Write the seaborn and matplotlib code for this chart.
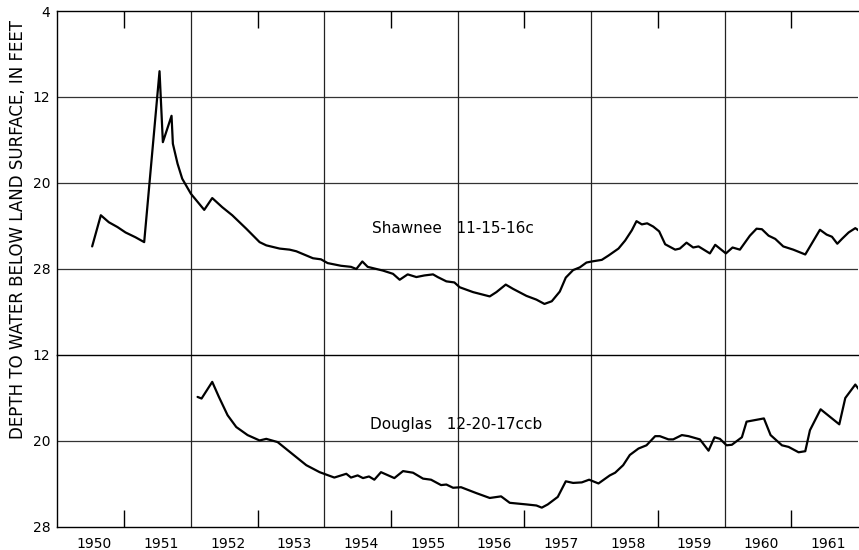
import numpy as np
import pandas as pd
import matplotlib
matplotlib.use('Agg')
import matplotlib.pyplot as plt
import seaborn as sns

# Shawnee 11-15-16c
shawnee_date = [1950.52, 1950.65, 1950.77, 1950.90, 1951.02, 1951.17, 1951.30, 1951.53, 1951.58, 1951.71,
                1951.73, 1951.80, 1951.87, 1952.00, 1952.20, 1952.32, 1952.47, 1952.62, 1952.83, 1953.03,
                1953.13, 1953.33, 1953.48, 1953.58, 1953.83, 1953.95, 1954.05, 1954.25, 1954.40, 1954.48,
                1954.57, 1954.65, 1954.88, 1955.03, 1955.13, 1955.25, 1955.38, 1955.50, 1955.63, 1955.70,
                1955.83, 1955.95, 1956.03, 1956.23, 1956.48, 1956.58, 1956.72, 1956.83, 1957.03, 1957.18,
                1957.30, 1957.41, 1957.53, 1957.62, 1957.73, 1957.83, 1957.93, 1958.01, 1958.16, 1958.26,
                1958.41, 1958.51, 1958.61, 1958.68, 1958.76, 1958.84, 1958.93, 1959.02, 1959.11, 1959.26,
                1959.33, 1959.43, 1959.53, 1959.61, 1959.78, 1959.86, 1960.02, 1960.12, 1960.23, 1960.38,
                1960.48, 1960.56, 1960.66, 1960.76, 1960.88, 1961.03, 1961.21, 1961.43, 1961.53, 1961.61,
                1961.69, 1961.76, 1961.86, 1961.96, 1962.02]
shawnee_depth = [25.9, 23.0, 23.65, 24.1, 24.6, 25.05, 25.5, 9.6, 16.2, 13.75,
                 16.35, 18.2, 19.6, 21.0, 22.5, 21.4, 22.25, 23.0, 24.25, 25.5,
                 25.8, 26.1, 26.2, 26.35, 27.0, 27.1, 27.45, 27.7, 27.8, 28.0,
                 27.3, 27.8, 28.15, 28.45, 29.0, 28.5, 28.75, 28.6, 28.5, 28.75,
                 29.15, 29.25, 29.7, 30.15, 30.55, 30.15, 29.45, 29.85, 30.5, 30.85,
                 31.25, 31.0, 30.1, 28.8, 28.1, 27.85, 27.4, 27.3, 27.15, 26.75,
                 26.1, 25.35, 24.4, 23.55, 23.85, 23.75, 24.05, 24.5, 25.7, 26.2,
                 26.1, 25.55, 26.0, 25.9, 26.55, 25.75, 26.55, 26.0, 26.2, 24.9,
                 24.25, 24.3, 24.9, 25.2, 25.9, 26.2, 26.65, 24.35, 24.8, 25.0,
                 25.65, 25.2, 24.6, 24.2, 24.45]

# Douglas 12-20-17ccb
douglas_date = [1952.10, 1952.16, 1952.32, 1952.42, 1952.55, 1952.68, 1952.85, 1953.03, 1953.13, 1953.30,
                1953.48, 1953.62, 1953.73, 1953.93, 1954.15, 1954.33, 1954.40, 1954.50, 1954.58, 1954.67,
                1954.75, 1954.85, 1955.05, 1955.18, 1955.33, 1955.48, 1955.60, 1955.75, 1955.83, 1955.93,
                1956.05, 1956.28, 1956.48, 1956.65, 1956.78, 1957.03, 1957.18, 1957.26, 1957.35, 1957.50,
                1957.62, 1957.73, 1957.86, 1957.97, 1958.11, 1958.28, 1958.36, 1958.48, 1958.58, 1958.71,
                1958.83, 1958.96, 1959.03, 1959.16, 1959.23, 1959.36, 1959.46, 1959.63, 1959.76, 1959.85,
                1959.93, 1960.03, 1960.11, 1960.26, 1960.33, 1960.59, 1960.69, 1960.86, 1960.96, 1961.11,
                1961.21, 1961.28, 1961.44, 1961.72, 1961.81, 1961.96, 1962.02]
douglas_depth = [15.9, 16.05, 14.5, 15.9, 17.6, 18.7, 19.45, 19.95, 19.8, 20.1,
                 21.0, 21.7, 22.25, 22.9, 23.4, 23.05, 23.4, 23.2, 23.45, 23.3,
                 23.6, 22.9, 23.45, 22.8, 22.95, 23.5, 23.6, 24.1, 24.05, 24.35,
                 24.3, 24.85, 25.3, 25.15, 25.75, 25.9, 26.0, 26.2, 25.9, 25.2,
                 23.75, 23.9, 23.85, 23.6, 23.95, 23.2, 22.95, 22.25, 21.3, 20.7,
                 20.4, 19.55, 19.55, 19.85, 19.85, 19.45, 19.55, 19.85, 20.9, 19.65,
                 19.8, 20.4, 20.35, 19.65, 18.2, 17.9, 19.45, 20.4, 20.55, 21.05,
                 20.95, 19.0, 17.05, 18.45, 16.0, 14.75, 15.25]

years = list(range(1950, 1962))
top_ticks = [4, 12, 20, 28, 36]
top_labels = ['4', '12', '20', '28', '']
low_ticks = [12, 20, 28]
low_labels = ['12', '20', '28']

sns.set_style('white')
plt.rcParams['font.family'] = ['DejaVu Sans']
plt.rcParams['text.color'] = 'black'
plt.rcParams['xtick.color'] = 'black'
plt.rcParams['ytick.color'] = 'black'

fig = plt.figure(figsize=(8.59, 5.5), dpi=100)
ax1 = fig.add_axes([0.0669, 0.35455, 0.9319, 0.62545])
ax2 = fig.add_axes([0.0669, 0.04182, 0.9319, 0.31273])

sh = pd.DataFrame({'date': shawnee_date, 'depth': shawnee_depth})
dg = pd.DataFrame({'date': douglas_date, 'depth': douglas_depth})
sns.lineplot(data=sh, x='date', y='depth', ax=ax1, color='black', lw=1.6, estimator=None, sort=False)
sns.lineplot(data=dg, x='date', y='depth', ax=ax2, color='black', lw=1.6, estimator=None, sort=False)

ax1.set_ylim(36, 4)
ax2.set_ylim(28, 12)
ax1.set_yticks(top_ticks)
ax1.set_yticklabels(top_labels)
ax2.set_yticks(low_ticks)
ax2.set_yticklabels(low_labels)

for ax in (ax1, ax2):
    ax.set_xlim(1950, 1962)
    ax.set_xlabel('')
    ax.set_ylabel('')
    ax.spines['right'].set_visible(False)
    for s in ['top', 'left', 'bottom']:
        ax.spines[s].set_color('black')
        ax.spines[s].set_linewidth(1.0)
    for y in ax.get_yticks()[1:-1]:
        ax.axhline(y, color='#333333', lw=0.9, zorder=0)
    for x in years[2::2]:
        ax.axvline(x, color='#222222', lw=0.9, zorder=0)
    ax.set_xticks(years[1::2])
    ax.tick_params(axis='y', length=0, pad=5, labelsize=10)

ax1.spines['bottom'].set_visible(False)
ax1.tick_params(axis='x', which='major', direction='in', top=True, bottom=False,
                labeltop=False, labelbottom=False, length=12, width=1, color='black')
ax2.tick_params(axis='x', which='major', direction='in', top=False, bottom=True,
                labelbottom=False, length=12, width=1, color='black')
ax2.set_xticks([y + 0.55 for y in years], minor=True)
ax2.set_xticklabels([str(y) for y in years], minor=True)
ax2.tick_params(axis='x', which='minor', length=0, pad=7, labelsize=10)

ax1.text(1954.71, 24.2, 'Shawnee   11-15-16c', fontsize=11, va='center', ha='left')
ax2.text(1954.68, 18.45, 'Douglas   12-20-17ccb', fontsize=11, va='center', ha='left')

fig.text(0.021, 0.583, 'DEPTH TO WATER BELOW LAND SURFACE, IN FEET', rotation=90,
         fontsize=12, va='center', ha='center')

fig.savefig('out.png', dpi=100)
